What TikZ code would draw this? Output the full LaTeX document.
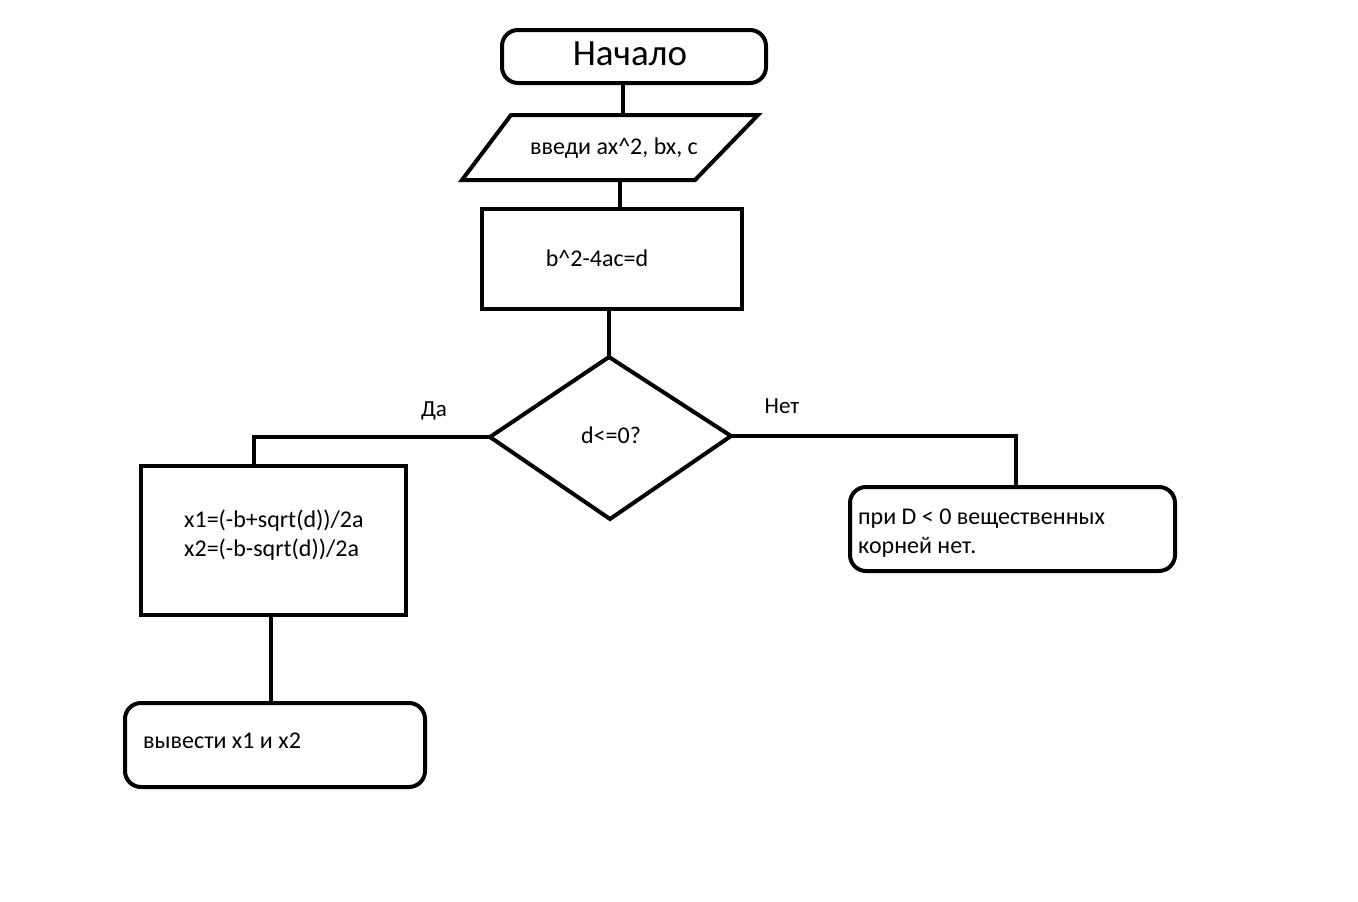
\documentclass[tikz,border=0pt]{standalone}
\usepackage{fontspec}
\setmainfont{Carlito}
\usetikzlibrary{shapes.geometric}
\begin{document}
\begin{tikzpicture}[x=1pt,y=-1pt,
  box/.style={draw,line width=4pt,inner sep=0pt,anchor=north west},
  rbox/.style={box,rounded corners=16pt},
  conn/.style={line width=4pt},
  txt/.style={font=\fontsize{24}{29}\selectfont,inner sep=0pt},
  lbl/.style={font=\fontsize{23}{26}\selectfont,inner sep=0pt}]
\useasboundingbox[fill=white] (0,0) rectangle (1358,902);
% start
\node[rbox,minimum width=264pt,minimum height=53pt] (start) at (500,28) {};
\node[font=\fontsize{37}{40}\selectfont,inner sep=0pt] (starttxt) at (630,54) {Начало};
% input parallelogram
\coordinate (inTL) at (511,115);
\coordinate (inTR) at (758,115);
\coordinate (inBR) at (695,180);
\coordinate (inBL) at (462,180);
\draw[line width=4pt,line join=miter] (inTL) -- (inTR) -- (inBR) -- (inBL) -- cycle;
\node[txt] (intxt) at (614,148) {введи ax\^{}2, bx, c};
\coordinate (inTop) at (623,115);
\coordinate (inBot) at (620,180);
% compute
\node[box,minimum width=260pt,minimum height=100pt] (calc) at (480,207) {};
\node[txt] (calctxt) at (597,258) {b\^{}2-4ac=d};
% decision
\coordinate (dT) at (609,357);
\coordinate (dL) at (490,437);
\coordinate (dR) at (731,436);
\coordinate (dB) at (610,519);
\draw[line width=4pt,line join=miter] (dT) -- (dR) -- (dB) -- (dL) -- cycle;
\node[txt] (dtxt) at (611,435) {d<=0?};
% yes branch box
\node[box,minimum width=265pt,minimum height=149pt] (roots) at (139,464) {};
\node[txt,align=left,anchor=west] (rootstxt) at (184,535) {x1=(-b+sqrt(d))/2a\\x2=(-b-sqrt(d))/2a};
% output
\node[rbox,minimum width=300pt,minimum height=84pt] (out) at (123,701) {};
\node[txt,anchor=west] (outtxt) at (143,741) {вывести x1 и x2};
% no branch
\node[rbox,minimum width=325pt,minimum height=84pt] (none) at (848,485) {};
\node[txt,align=left,anchor=west] (nonetxt) at (858,533) {при D < 0 вещественных\\корней нет.};
% labels
\node[lbl] (yes) at (434,411) {Да};
\node[lbl] (no) at (782,406) {Нет};
% connectors
\draw[conn] (start.south -| inTop) -- (inTop);
\draw[conn] (inBot) -- (inBot |- calc.north);
\draw[conn] (calc.south -| dT) -- (dT);
\draw[conn,line join=miter] (dL) -- (254,437) -- (254,464);
\draw[conn] (271,613) -- (271,703);
\draw[conn,line join=miter] (dR) -- (1016,436) -- (1016,487);
\end{tikzpicture}
\end{document}
